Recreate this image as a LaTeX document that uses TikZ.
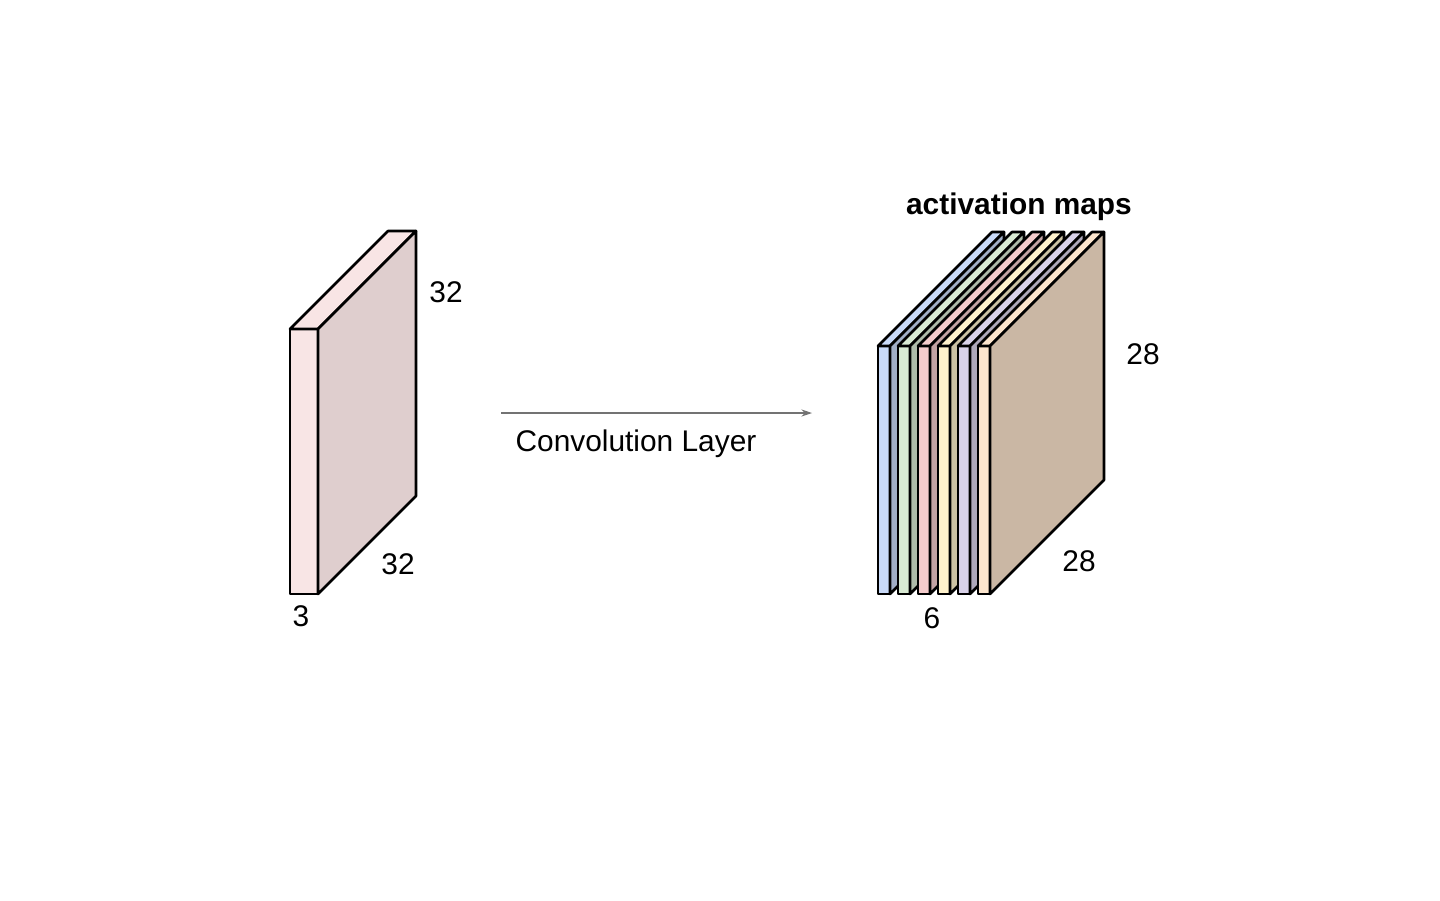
\documentclass[tikz,border=0pt]{standalone}
\usepackage{fontspec}
\setmainfont{Liberation Sans}
\usetikzlibrary{arrows.meta}

\definecolor{inputfront}{HTML}{F8E5E5}
\definecolor{inputside}{HTML}{DFCECE}
\definecolor{mapblue}{HTML}{C9DAF8}
\definecolor{mapgreen}{HTML}{D9EAD3}
\definecolor{mapred}{HTML}{F4CCCC}
\definecolor{mapyellow}{HTML}{FFF2CC}
\definecolor{mappurple}{HTML}{D9D2E9}
\definecolor{maporange}{HTML}{FCE5CD}

\tikzset{
  face/.style={draw=black, line width=1.5pt, line join=round},
  dimlabel/.style={font=\fontsize{17}{20}\selectfont, inner sep=0pt},
}

\begin{document}
\begin{tikzpicture}[x=0.02cm, y=-0.02cm]
\useasboundingbox (0,0) rectangle (1440,900);

% input volume
\draw[face, fill=inputfront] (290,329) rectangle (318,594);
\draw[face, fill=inputfront] (290,329)--(318,329)--(416,231)--(388,231)--cycle;
\draw[face, fill=inputside] (318,329)--(416,231)--(416,496)--(318,594)--cycle;

\node[dimlabel] (inh) at (446,292) {32};
\node[dimlabel] (inw) at (398,564) {32};
\node[dimlabel] (ind) at (301,616) {3};

% convolution arrow
\coordinate (convstart) at (501,413);
\coordinate (convend) at (812,413);
\draw[-{Stealth[length=6pt,width=4pt]}, gray!90!black, line width=0.6pt] (convstart)--(convend);
\node[dimlabel] (convlabel) at (636,444) {Convolution Layer};

% activation maps
\foreach \x/\col in {878/mapblue, 898/mapgreen, 918/mapred, 938/mapyellow, 958/mappurple, 978/maporange}{
  \draw[face, fill=\col] (\x,346) rectangle (\x+12,594);
  \draw[face, fill=\col] (\x,346)--(\x+12,346)--(\x+126,232)--(\x+114,232)--cycle;
  \draw[face, fill=\col!80!black] (\x+12,346)--(\x+126,232)--(\x+126,480)--(\x+12,594)--cycle;
}

\node[dimlabel, font=\fontsize{17}{20}\selectfont\bfseries] (maptitle) at (1019,207) {activation maps};
\node[dimlabel] (maph) at (1143,354) {28};
\node[dimlabel] (mapw) at (1079,561) {28};
\node[dimlabel] (mapd) at (932,618) {6};

\end{tikzpicture}
\end{document}
